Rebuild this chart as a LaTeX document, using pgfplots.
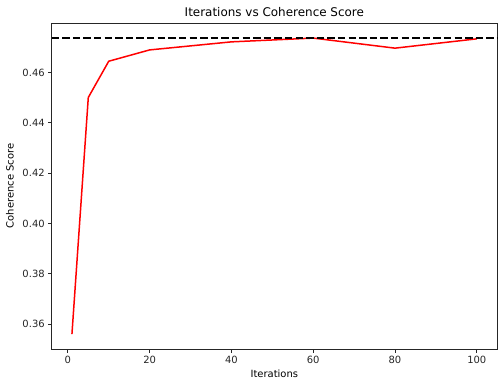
\documentclass[border=0pt]{standalone}
\usepackage{fontspec}
\setmainfont{DejaVu Sans}
\usepackage{pgfplots}
\pgfplotsset{compat=1.18}
\begin{document}
\begin{tikzpicture}
\begin{axis}[
  at={(0,0)}, anchor=south west,
  scale only axis,
  width=445.3bp, height=326bp,
  xmin=-3.95, xmax=104.95,
  ymin=0.3501, ymax=0.4797,
  xtick={0,20,40,60,80,100},
  ytick={0.36,0.38,0.40,0.42,0.44,0.46},
  yticklabel style={/pgf/number format/.cd,fixed,fixed zerofill,precision=2},
  /pgf/number format/assume math mode=true,
  tick label style={font=\fontsize{10}{12}\selectfont, text=black!85},
  label style={font=\fontsize{10}{12}\selectfont},
  ylabel style={yshift=2bp},
  title style={font=\fontsize{12}{14}\selectfont, yshift=-3.5bp},
  title={Iterations vs Coherence Score},
  xlabel={Iterations},
  ylabel={Coherence Score},
  axis line style={black!85, line width=0.8bp},
  tick style={black!85, line width=0.8bp},
  tick align=outside,
  major tick length=3.5bp,
  xtick pos=bottom, ytick pos=left,
  clip=false,
]
\addplot[red, line width=1.5bp] coordinates {
  (1,0.356) (5,0.4501) (10,0.4645) (20,0.469) (40,0.4722) (60,0.4737) (80,0.4697) (100,0.4734)
};
\addplot[black, line width=2bp, dash pattern=on 7.4bp off 3.2bp] coordinates {
  (-3.95,0.4738) (104.95,0.4738)
};
\end{axis}
\pgfresetboundingbox
\path[use as bounding box] (-51.7bp,-38bp) rectangle (452.3bp,349bp);
\end{tikzpicture}
\end{document}
